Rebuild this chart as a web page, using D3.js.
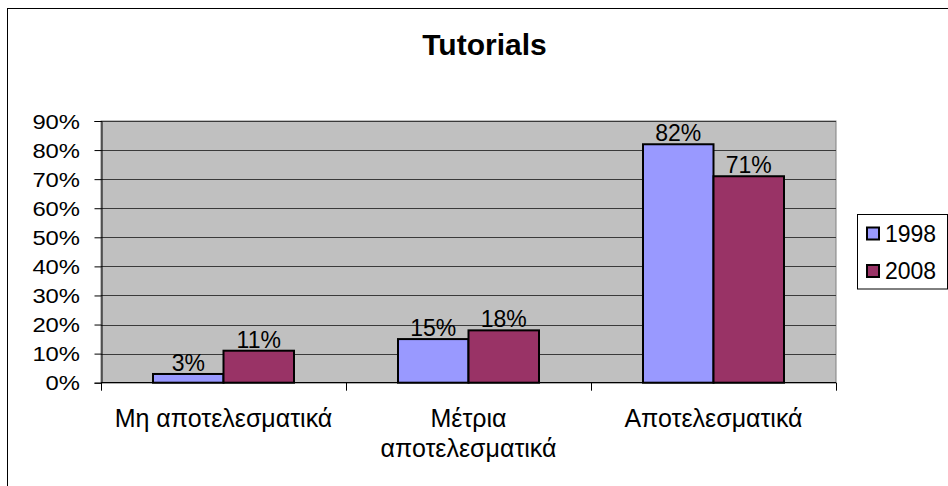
<!DOCTYPE html>
<html><head><meta charset="utf-8">
<script src="https://cdn.jsdelivr.net/npm/d3@7"></script>
<style>
body{margin:0;background:#fff;}
text{font-family:"Liberation Sans",Arial,sans-serif;fill:#000;}
</style></head>
<body>
<svg id="c" width="948" height="486"></svg>
<script>
const title = "Tutorials";
const categories = ["Μη αποτελεσματικά", "Μέτρια\nαποτελεσματικά", "Αποτελεσματικά"];
const seriesNames = ["1998", "2008"];
const values1998 = [0.03, 0.15, 0.82];
const values2008 = [0.11, 0.18, 0.71];
const yTicks = [0, 0.1, 0.2, 0.3, 0.4, 0.5, 0.6, 0.7, 0.8, 0.9];
const colors = ["#9999FF", "#993366"];

const series = [values1998, values2008];
const svg = d3.select("#c");
const L = 101, R = 836, T = 121, B = 382.7;

// outer border
svg.append("rect").attr("x", 7.5).attr("y", 8.5).attr("width", 960).attr("height", 500)
  .attr("fill", "none").attr("stroke", "#000").attr("stroke-width", 1);

svg.append("text").attr("x", 484.5).attr("y", 55).attr("text-anchor", "middle")
  .style("font-size", "30px").style("font-weight", "bold").text(title);

const y = d3.scaleLinear().domain([0, 0.9]).range([B, T]);
const x = d3.scaleBand().domain(categories).range([L, R]).padding(0);
const xs = d3.scaleBand().domain(seriesNames).range([0, x.bandwidth()]).paddingInner(0).paddingOuter(0.7376);

// plot background
svg.append("rect").attr("x", L).attr("y", T).attr("width", R - L).attr("height", B - T)
  .attr("fill", "#C0C0C0").attr("stroke", "#808080").attr("stroke-width", 1);

// gridlines
svg.append("g").selectAll("line").data(yTicks.filter(d => d > 0)).join("line")
  .attr("x1", L).attr("x2", R).attr("y1", d => Math.round(y(d)) + 0.5).attr("y2", d => Math.round(y(d)) + 0.5)
  .attr("stroke", "#3a3a3a").attr("stroke-width", 1);

// y axis
const yAxis = svg.append("g").attr("transform", `translate(${L + 0.5},0)`)
  .call(d3.axisLeft(y).tickValues(yTicks).tickSize(7).tickFormat(""));
yAxis.select(".domain").attr("stroke", "#000");
yAxis.selectAll(".tick line").attr("stroke", "#000");
svg.append("g").selectAll("text").data(yTicks).join("text")
  .attr("transform", d => `translate(80,${y(d) + 7.5}) scale(1.19,1)`)
  .attr("text-anchor", "end").style("font-size", "20px")
  .text(d3.format(".0%"));

// bars
const g = svg.append("g");
series.forEach((vals, si) => {
  g.selectAll(null).data(vals).join("rect")
    .attr("x", (d, i) => x(categories[i]) + xs(seriesNames[si]))
    .attr("y", d => y(d))
    .attr("width", xs.bandwidth())
    .attr("height", d => B - y(d))
    .attr("fill", colors[si]).attr("stroke", "#000").attr("stroke-width", 2);
  g.selectAll(null).data(vals).join("text")
    .attr("x", (d, i) => x(categories[i]) + xs(seriesNames[si]) + xs.bandwidth() / 2)
    .attr("y", d => y(d) - 3)
    .attr("text-anchor", "middle").style("font-size", "23px")
    .text(d3.format(".0%"));
});

// x axis
const xAxis = svg.append("g").attr("transform", `translate(0,${B})`);
xAxis.append("line").attr("x1", L).attr("x2", R).attr("stroke", "#000").attr("stroke-width", 1.2);
xAxis.selectAll("line.t").data(categories.map(c => x(c)).concat([R])).join("line").attr("class", "t")
  .attr("x1", d => d + 0.5).attr("x2", d => d + 0.5).attr("y1", 0).attr("y2", 8).attr("stroke", "#000");
categories.forEach(c => {
  const lines = c.split("\n");
  const t = svg.append("text").attr("text-anchor", "middle").style("font-size", "25px");
  lines.forEach((ln, i) => {
    t.append("tspan").attr("x", x(c) + x.bandwidth() / 2).attr("y", 427 + i * 30).text(ln);
  });
});

// legend
const lg = svg.append("g");
lg.append("rect").attr("x", 857.5).attr("y", 214.5).attr("width", 90).attr("height", 74.5)
  .attr("fill", "#fff").attr("stroke", "#000").attr("stroke-width", 1);
seriesNames.forEach((s, i) => {
  lg.append("rect").attr("x", 867).attr("y", 227.5 + i * 37.5).attr("width", 12).attr("height", 12)
    .attr("fill", colors[i]).attr("stroke", "#000").attr("stroke-width", 2);
  lg.append("text").attr("x", 885).attr("y", 241.5 + i * 37.5).style("font-size", "23px").text(s);
});
</script>
</body></html>
